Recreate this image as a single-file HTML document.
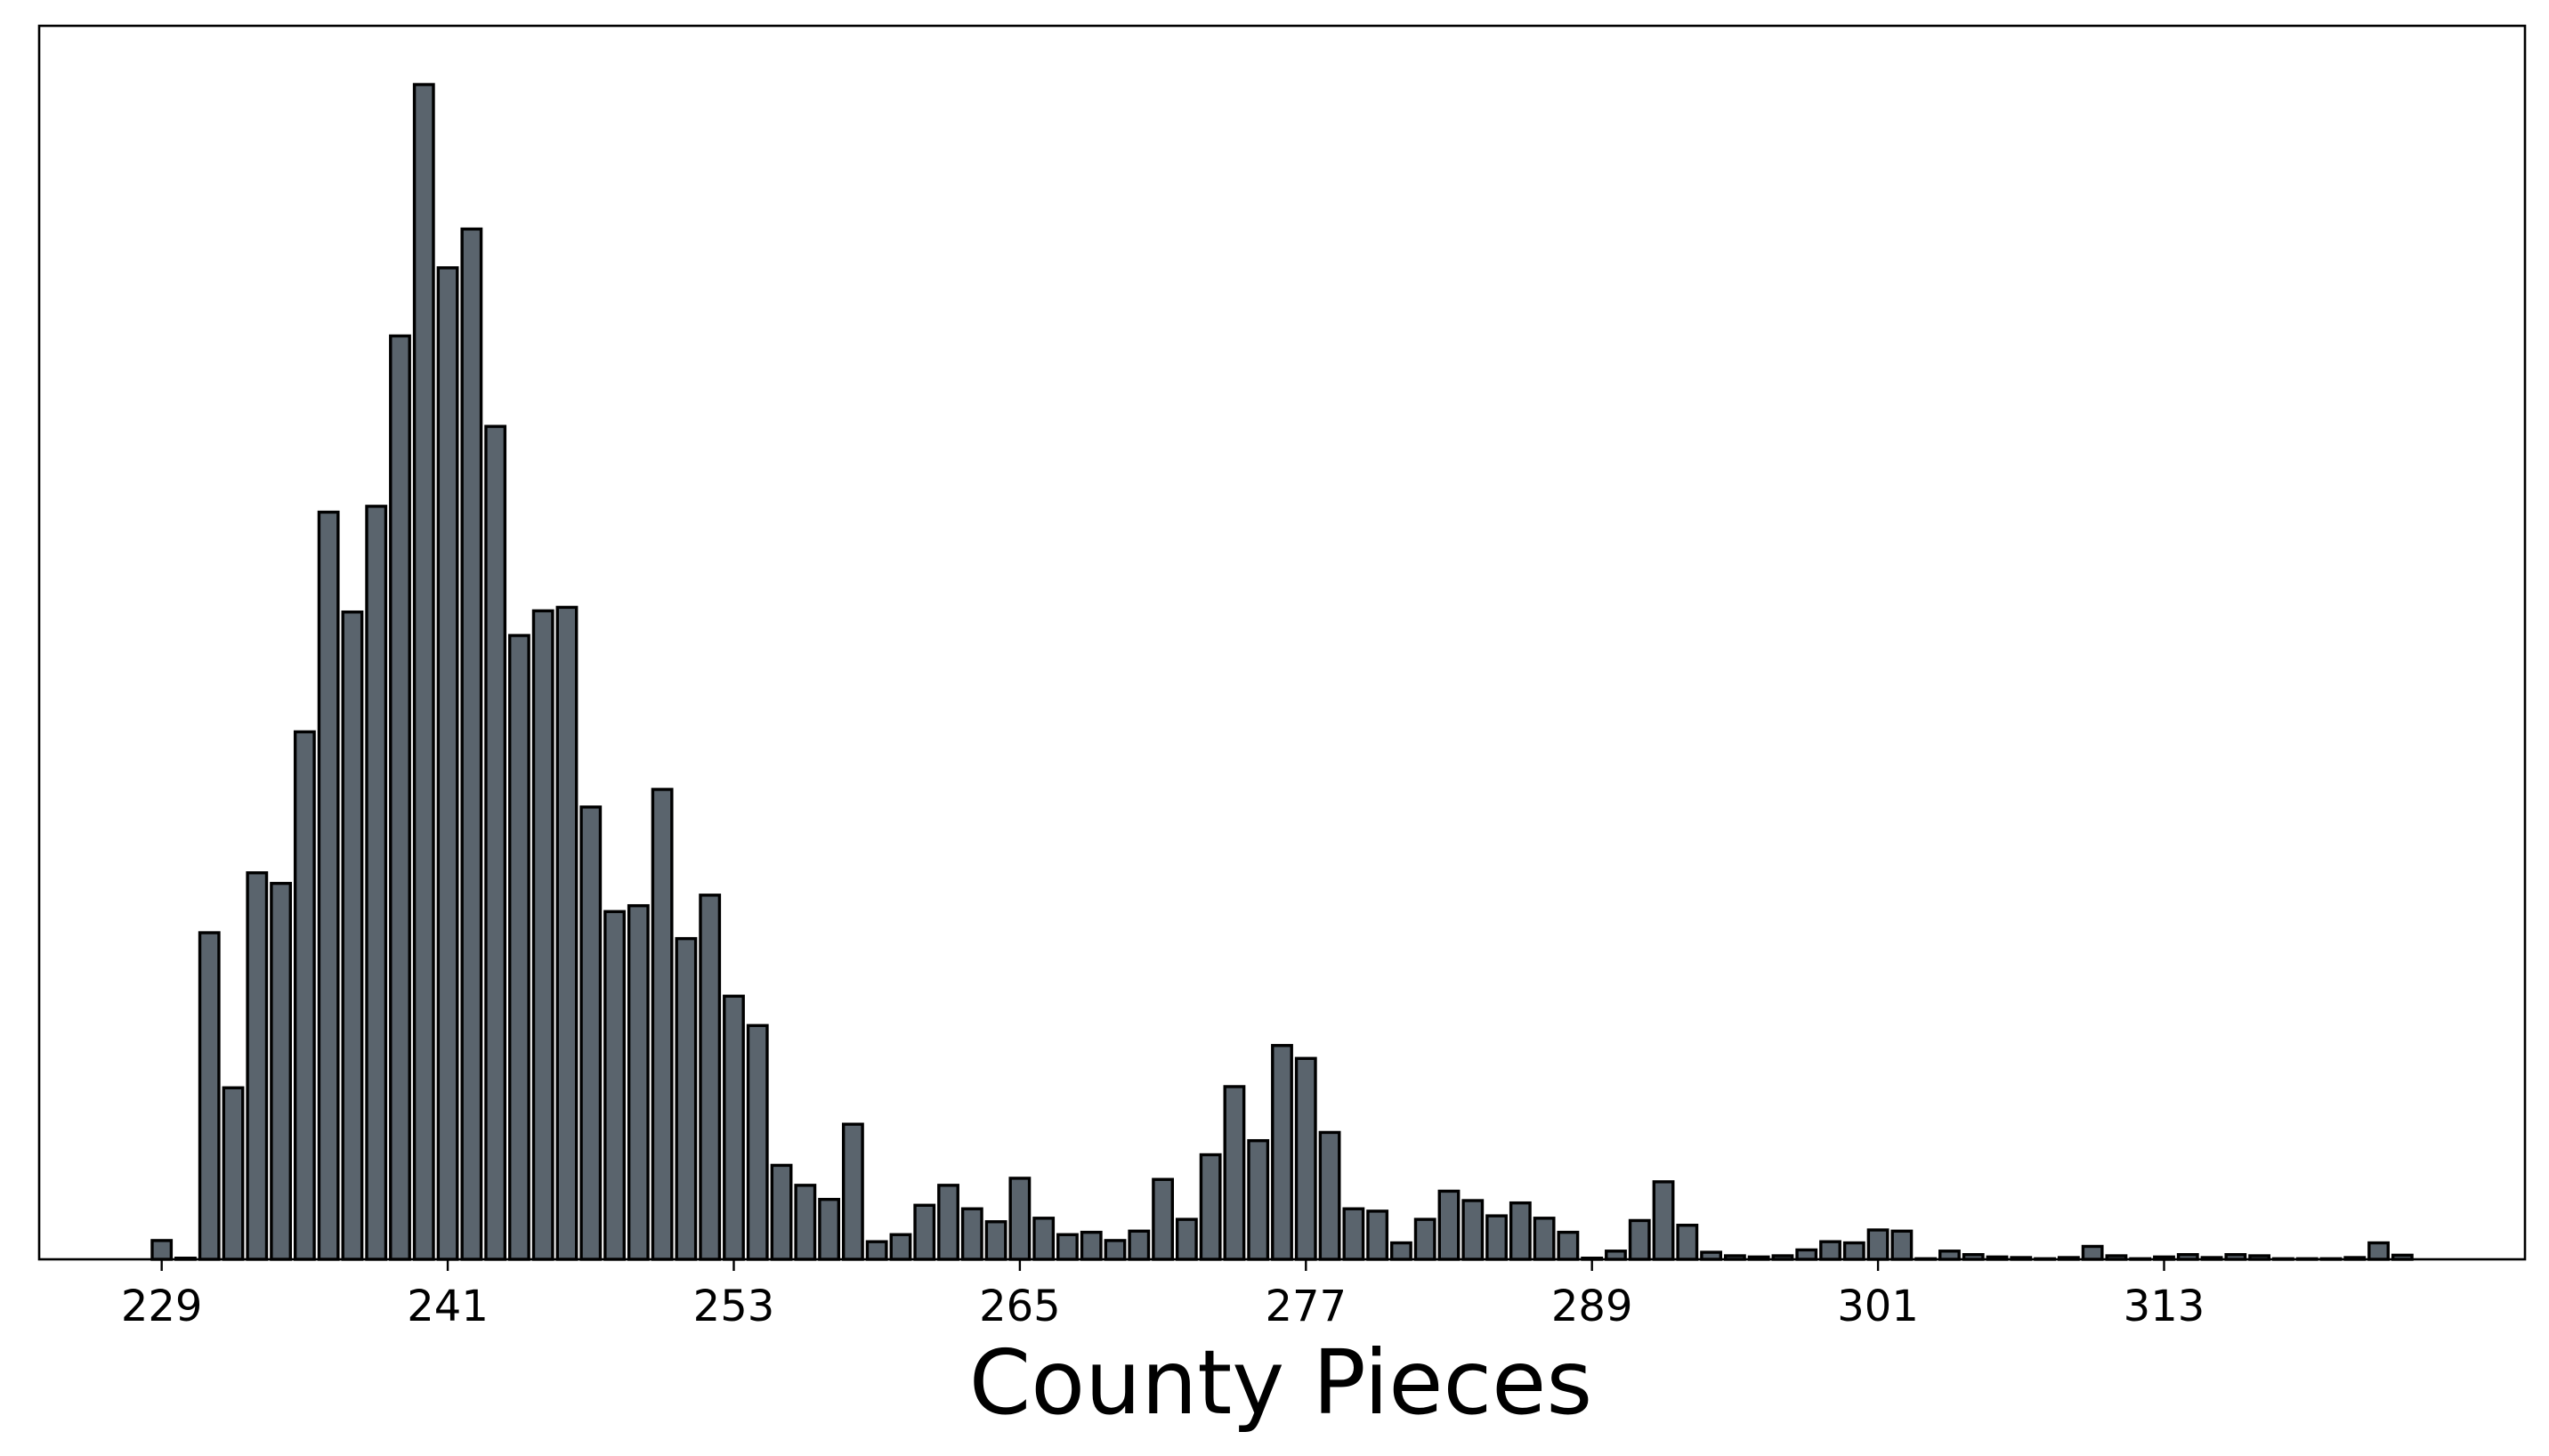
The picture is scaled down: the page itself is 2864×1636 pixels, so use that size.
<!DOCTYPE html>
<html><head><meta charset="utf-8"><style>
html,body{margin:0;padding:0;background:#fff;}
svg{display:block;font-family:"DejaVu Sans","Liberation Sans",sans-serif;}
</style></head><body>
<svg id="chart" width="2864" height="1636" viewBox="0 0 2864 1636" xmlns="http://www.w3.org/2000/svg">
<rect x="0" y="0" width="2864" height="1636" fill="#fff"/>
<g id="bars"></g>
<rect x="44" y="29" width="2793" height="1386" fill="none" stroke="#000" stroke-width="2.6"/>
<g id="ticks"></g>
<text x="1439" y="1588" font-size="99.5" text-anchor="middle" fill="#000">County Pieces</text>
</svg>
<script>
const categories = [229,230,231,232,233,234,235,236,237,238,239,240,241,242,243,244,245,246,247,248,249,250,251,252,253,254,255,256,257,258,259,260,261,262,263,264,265,266,267,268,269,270,271,272,273,274,275,276,277,278,279,280,281,282,283,284,285,286,287,288,289,290,291,292,293,294,295,296,297,298,299,300,301,302,303,304,305,306,307,308,309,310,311,312,313,314,315,316,317,318,319,320,321,322,323];
const counts = [1.6,0.1,27.8,14.6,32.9,32.0,44.9,63.6,55.1,64.1,78.6,100,84.4,87.7,70.9,53.1,55.2,55.5,38.5,29.6,30.1,40.0,27.3,31.0,22.4,19.9,8.0,6.3,5.1,11.5,1.5,2.1,4.6,6.3,4.3,3.2,6.9,3.5,2.1,2.3,1.6,2.4,6.8,3.4,8.9,14.7,10.1,18.2,17.1,10.8,4.3,4.1,1.4,3.4,5.8,5.0,3.7,4.8,3.5,2.3,0.1,0.7,3.3,6.6,2.9,0.6,0.3,0.2,0.3,0.8,1.5,1.4,2.5,2.4,0.05,0.7,0.4,0.2,0.15,0.05,0.15,1.1,0.3,0.05,0.2,0.4,0.15,0.4,0.3,0.05,0.05,0.05,0.15,1.4,0.35];
const tickLabels = [229,241,253,265,277,289,301,313];

const NS='http://www.w3.org/2000/svg';
const xMin=223.86, xMax=328.14, pxL=44, pxR=2837;
const yMax=105, pyTop=29, pyBot=1415;
function xs(v){return pxL+(v-xMin)/(xMax-xMin)*(pxR-pxL);}
function ys(v){return pyBot-v/yMax*(pyBot-pyTop);}
const unit=xs(1)-xs(0);
const gb=document.getElementById('bars');
categories.forEach((c,i)=>{
  const r=document.createElementNS(NS,'rect');
  const w=0.8*unit;
  r.setAttribute('x',xs(c)-w/2);
  r.setAttribute('y',ys(counts[i]));
  r.setAttribute('width',w);
  r.setAttribute('height',Math.max(0,ys(0)-ys(counts[i])));
  r.setAttribute('fill','#5a646d');
  r.setAttribute('stroke','#000');
  r.setAttribute('stroke-width','3.4');
  
  
  gb.appendChild(r);
});
const gt=document.getElementById('ticks');
tickLabels.forEach(t=>{
  const l=document.createElementNS(NS,'line');
  l.setAttribute('x1',xs(t));l.setAttribute('x2',xs(t));
  l.setAttribute('y1',pyBot);l.setAttribute('y2',pyBot+13);
  l.setAttribute('stroke','#000');l.setAttribute('stroke-width','2.4');
  
  
  gt.appendChild(l);
  const tx=document.createElementNS(NS,'text');
  tx.setAttribute('x',xs(t));tx.setAttribute('y',1484);
  tx.setAttribute('font-size','48');tx.setAttribute('text-anchor','middle');
  tx.textContent=t;
  
  
  gt.appendChild(tx);
});
</script>
</body></html>
